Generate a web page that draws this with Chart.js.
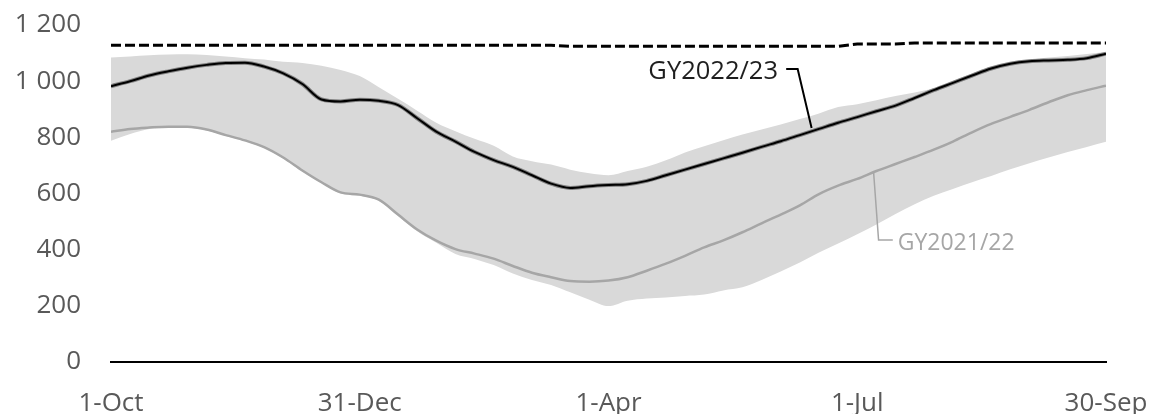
<!DOCTYPE html>
<html><head><meta charset="utf-8">
<script src="https://cdn.jsdelivr.net/npm/chart.js@4/dist/chart.umd.min.js"></script>
<style>html,body{margin:0;padding:0;background:#fff;}canvas{display:block;}</style>
</head><body>
<canvas id="c" width="1150" height="414"></canvas>
<script>
// Day of gas year (0 = 1-Oct)
const days = [0,7,14,21,28,35,42,49,56,63,70,77,84,91,98,105,112,119,126,133,140,147,154,161,168,175,182,189,196,203,210,217,224,231,238,245,252,259,266,273,280,287,294,301,308,315,322,329,336,343,350,357,364];

const gy2223 = [982,1000,1020,1035,1048,1058,1065,1066,1052,1028,990,935,928,934,930,915,868,820,785,748,719,695,665,635,620,626,630,633,645,665,685,705,725,745,766,786,808,830,852,872,893,913,940,968,994,1020,1045,1062,1071,1074,1076,1082,1098];

const gy2122 = [820,830,835,838,838,828,808,789,765,728,682,640,604,596,578,525,472,432,402,386,368,342,318,302,288,286,290,302,325,350,378,408,433,462,494,525,558,598,628,652,680,705,730,756,785,818,848,873,898,925,950,968,984];

const rangeMax = [1084,1088,1092,1095,1096,1093,1088,1082,1077,1069,1065,1055,1040,1018,978,937,895,852,822,795,770,732,715,703,685,672,665,680,695,718,746,768,790,810,828,846,865,885,908,918,932,947,960,975,1000,1027,1051,1065,1076,1084,1090,1097,1104];

const rangeMin = [788,812,830,834,834,824,805,786,762,725,678,637,600,592,574,520,466,425,385,367,345,315,292,274,248,222,199,218,226,230,235,240,255,266,292,322,354,390,422,455,490,527,562,592,616,640,662,686,708,728,748,766,784];

const capacity = [1128,1128,1128,1128,1128,1128,1128,1128,1128,1128,1128,1128,1128,1128,1128,1128,1128,1128,1128,1128,1128,1128,1128,1128,1124,1124,1124,1124,1124,1124,1124,1124,1124,1124,1124,1124,1124,1124,1124,1132,1132,1132,1136,1136,1136,1136,1136,1136,1136,1136,1136,1136,1136];

const xTickDays = [0, 91, 182, 273, 364];
const xTickLabels = ['1-Oct', '31-Dec', '1-Apr', '1-Jul', '30-Sep'];
const yTickValues = [0, 200, 400, 600, 800, 1000, 1200];
const yTickLabels = ['0', '200', '400', '600', '800', '1 000', '1 200'];

const seriesLabels = ['GY2022/23', 'GY2021/22'];

const pts = arr => days.map((d, i) => ({x: d, y: arr[i]}));

const FONT = "'Open Sans', 'Liberation Sans', sans-serif";

const annotations = [
  {text: seriesLabels[0], at: [244, 1032], align: 'right', color: '#1e1e1e', size: 25.5,
   path: [[247, 1043], [251.2, 1043], [256.3, 833]], lineColor: '#000000', lineWidth: 2},
  {text: seriesLabels[1], at: [287.8, 422], align: 'left', color: '#a6a6a6', size: 23,
   path: [[279, 673], [280.8, 434], [286, 434]], lineColor: '#a6a6a6', lineWidth: 1.5}
];

const annotationPlugin = {
  id: 'labels',
  afterDatasetsDraw(chart) {
    const {ctx, scales: {x, y}} = chart;
    ctx.save();
    annotations.forEach(a => {
      ctx.beginPath();
      a.path.forEach((p, i) => {
        const px = x.getPixelForValue(p[0]), py = y.getPixelForValue(p[1]);
        if (i === 0) ctx.moveTo(px, py); else ctx.lineTo(px, py);
      });
      ctx.strokeStyle = a.lineColor;
      ctx.lineWidth = a.lineWidth;
      ctx.stroke();
      ctx.font = a.size + 'px ' + FONT;
      ctx.fillStyle = a.color;
      ctx.textAlign = a.align;
      ctx.textBaseline = 'middle';
      ctx.fillText(a.text, x.getPixelForValue(a.at[0]), y.getPixelForValue(a.at[1]));
    });
    ctx.restore();
  }
};

new Chart(document.getElementById('c'), {
  type: 'line',
  data: {
    datasets: [
      {label: 'capacity', data: pts(capacity), borderColor: '#000', borderWidth: 3,
       borderDash: [10, 4], pointRadius: 0, fill: false, order: 0},
      {label: seriesLabels[0], data: pts(gy2223), borderColor: '#000', borderWidth: 2,
       pointRadius: 0, fill: false, cubicInterpolationMode: 'monotone', order: 1},
      {label: 'halo', data: pts(gy2223), borderColor: '#808080', borderWidth: 4,
       pointRadius: 0, fill: false, cubicInterpolationMode: 'monotone', order: 2},
      {label: seriesLabels[1], data: pts(gy2122), borderColor: '#a6a6a6', borderWidth: 2.5,
       pointRadius: 0, fill: false, cubicInterpolationMode: 'monotone', order: 3},
      {label: 'max', data: pts(rangeMax), borderWidth: 0, borderColor: 'rgba(0,0,0,0)',
       backgroundColor: '#d9d9d9', pointRadius: 0, fill: {target: 5}, cubicInterpolationMode: 'monotone', order: 4},
      {label: 'min', data: pts(rangeMin), borderWidth: 0, borderColor: 'rgba(0,0,0,0)',
       pointRadius: 0, fill: false, cubicInterpolationMode: 'monotone', order: 5}
    ]
  },
  options: {
    responsive: false,
    animation: false,
    devicePixelRatio: 1,
    layout: {padding: {top: 25, right: 44, left: 0, bottom: 0}},
    plugins: {legend: {display: false}, tooltip: {enabled: false}},
    scales: {
      x: {
        type: 'linear', min: 0, max: 364,
        grid: {display: false, drawTicks: false},
        border: {display: true, color: '#000', width: 2},
        afterBuildTicks: s => { s.ticks = xTickDays.map(v => ({value: v})); },
        afterFit: s => { s.height = 52; s.paddingLeft = 0; s.paddingRight = 0; },
        ticks: {
          autoSkip: false, maxRotation: 0, padding: 26, color: '#595959',
          font: {family: FONT, size: 26},
          callback: v => { const i = xTickDays.indexOf(v); return i >= 0 ? xTickLabels[i] : ''; }
        }
      },
      y: {
        min: 0, max: 1200,
        grid: {display: false, drawTicks: false},
        border: {display: false},
        afterBuildTicks: s => { s.ticks = yTickValues.map(v => ({value: v})); },
        afterFit: s => { s.width = 111; s.paddingTop = 0; s.paddingBottom = 0; },
        ticks: {
          padding: 30, color: '#595959',
          font: {family: FONT, size: 26},
          callback: v => { const i = yTickValues.indexOf(v); return i >= 0 ? yTickLabels[i] : ''; }
        }
      }
    }
  },
  plugins: [annotationPlugin]
});
</script>
</body></html>
